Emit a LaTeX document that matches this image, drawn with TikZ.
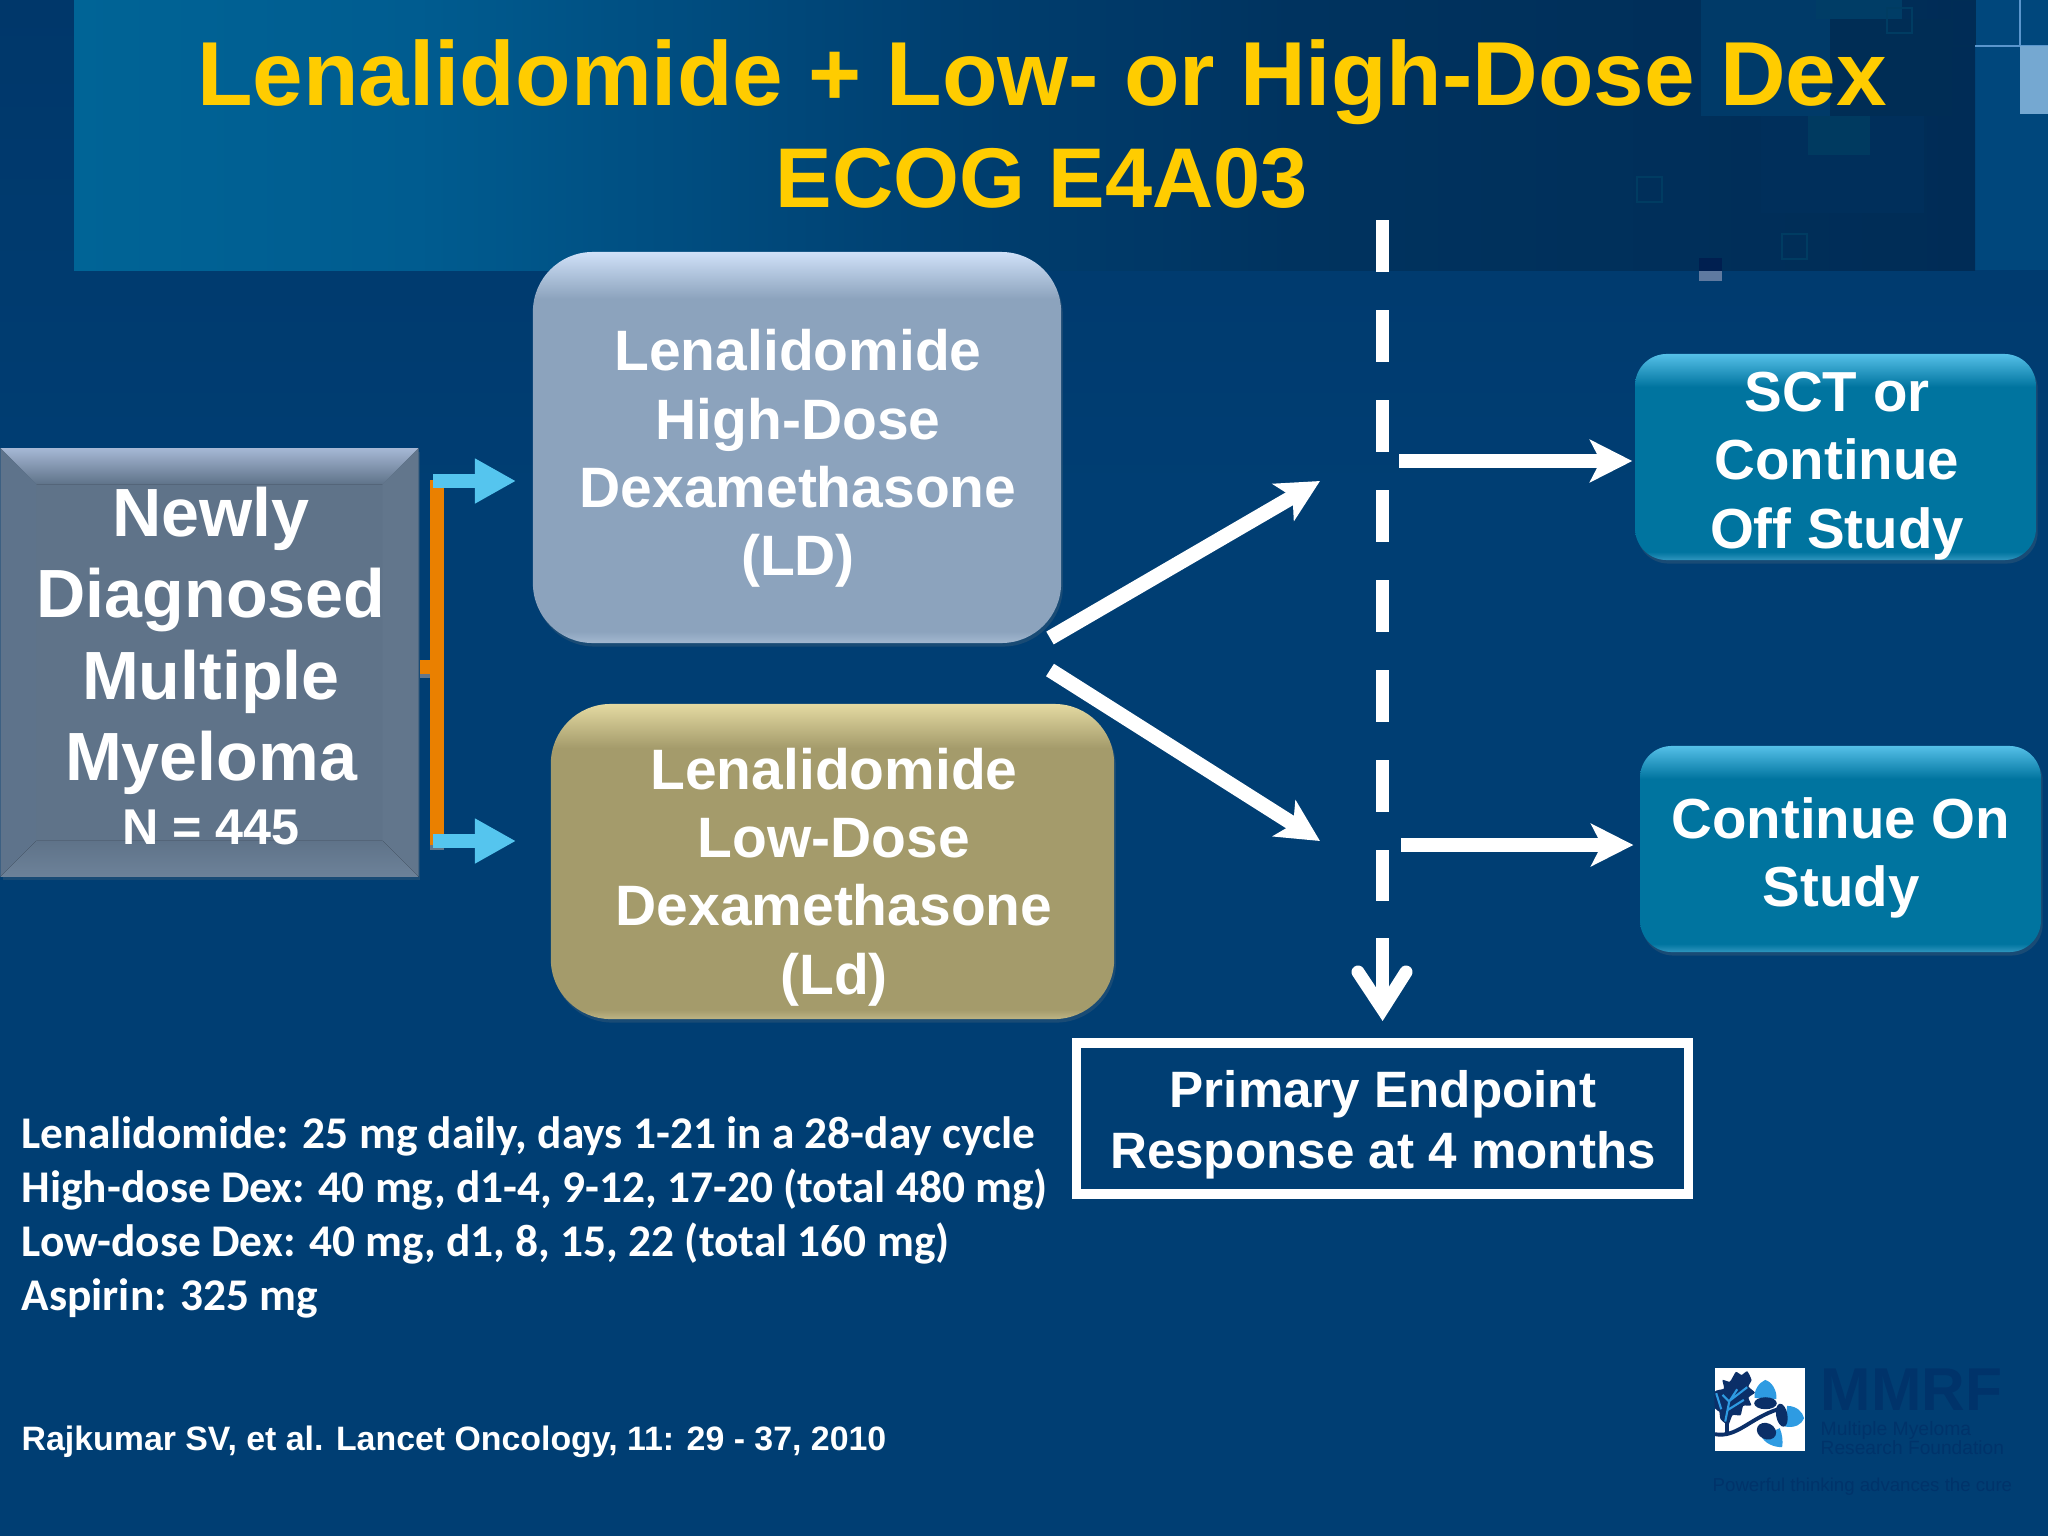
\documentclass[tikz,border=0pt]{standalone}
\usepackage{fontspec}
\setmainfont{Liberation Sans}
\newfontfamily\calfont{Carlito}
\usepackage{xcolor}
\usetikzlibrary{arrows.meta, shadows, positioning, calc}

\definecolor{bgmain}{HTML}{003E73}
\definecolor{bgtop}{HTML}{00376A}
\definecolor{bgside}{HTML}{00477C}
\definecolor{titlegold}{HTML}{FFCC00}
\definecolor{heada}{HTML}{006496}
\definecolor{headb}{HTML}{005C90}
\definecolor{headc}{HTML}{004F82}
\definecolor{headd}{HTML}{003F70}
\definecolor{heade}{HTML}{00335F}
\definecolor{headf}{HTML}{002C56}
\definecolor{patcha}{HTML}{003A68}
\definecolor{patchb}{HTML}{003D66}
\definecolor{patchc}{HTML}{002D55}
\definecolor{patchd}{HTML}{002F5B}
\definecolor{patche}{HTML}{003A60}
\definecolor{ghosta}{HTML}{003C62}
\definecolor{ghostb}{HTML}{002D55}
\definecolor{tabdark}{HTML}{001F50}
\definecolor{tabgrey}{HTML}{5F7AA0}
\definecolor{cornerline}{HTML}{5A96CD}
\definecolor{cornerfill}{HTML}{75A8D1}
\definecolor{ldbody}{HTML}{8CA3BD}
\definecolor{ldtop}{HTML}{D0E1F8}
\definecolor{ldrim}{HTML}{A3B8D0}
\definecolor{lowbody}{HTML}{A49B6B}
\definecolor{lowtop}{HTML}{E4DAA2}
\definecolor{lowrim}{HTML}{BDB484}
\definecolor{tealbody}{HTML}{00749F}
\definecolor{tealtop}{HTML}{55C0E8}
\definecolor{tealrim}{HTML}{2F96BF}
\definecolor{slatebody}{HTML}{5F7389}
\definecolor{slatetop}{HTML}{A6B8D5}
\definecolor{slateedge}{HTML}{6D8299}
\definecolor{slateright}{HTML}{62768C}
\definecolor{slateleft}{HTML}{5E738B}
\definecolor{bracketorange}{HTML}{EA8000}
\definecolor{splitcyan}{HTML}{55C5EE}
\definecolor{logodark}{HTML}{0B2F68}
\definecolor{logoblue}{HTML}{2E9BE2}
\definecolor{logotext}{HTML}{00336A}

\pgfdeclarehorizontalshading{headshade}{100bp}{color(0bp)=(heada); color(25bp)=(heada); color(34bp)=(headb);
  color(40bp)=(headc); color(48bp)=(headd); color(57bp)=(heade); color(75bp)=(headf); color(100bp)=(headf)}
\pgfdeclareverticalshading{ldshade}{100bp}{color(0bp)=(ldrim); color(25bp)=(ldrim); color(26.5bp)=(ldbody);
  color(69bp)=(ldbody); color(75bp)=(ldtop); color(100bp)=(ldtop)}
\pgfdeclareverticalshading{lowshade}{100bp}{color(0bp)=(lowrim); color(25bp)=(lowrim); color(26.5bp)=(lowbody);
  color(68bp)=(lowbody); color(75bp)=(lowtop); color(100bp)=(lowtop)}
\pgfdeclareverticalshading{tealshade}{100bp}{color(0bp)=(tealrim); color(25bp)=(tealrim); color(27bp)=(tealbody);
  color(67bp)=(tealbody); color(75bp)=(tealtop); color(100bp)=(tealtop)}

\tikzset{
  softshadow/.style={drop shadow={opacity=.2,shadow xshift=.5pt,shadow yshift=-1pt}},
  armbox/.style={rounded corners=17pt,softshadow,inner sep=0pt},
  armtext/.style={align=center,text=white,inner sep=0pt,font=\bfseries\fontsize{16.2}{19.4}\selectfont},
  offbox/.style={rounded corners=9pt,softshadow,inner sep=0pt,shading=tealshade,minimum width=114pt,minimum height=58.6pt},
  offtext/.style={align=center,text=white,inner sep=0pt,font=\bfseries\fontsize{16.05}{19.4}\selectfont},
  passarrow/.style={draw=white,line width=4.2pt,-{Stealth[length=12pt,width=12pt,inset=3pt]}},
  splitarrow/.style={draw=splitcyan,line width=4pt,-{Triangle[length=11.7pt,width=12pt]}},
  deftext/.style={text=white,anchor=base west,inner sep=0pt,font=\calfont\bfseries\fontsize{12.9}{15}\selectfont},
  logotextstyle/.style={text=logotext,anchor=base west,inner sep=0pt},
  ghostsquare/.style={draw=#1,line width=.4pt}
}

\begin{document}
\begin{tikzpicture}[x=0.01cm,y=-0.01cm]
  \useasboundingbox (0,0) rectangle (2048,1536);

  \fill[bgmain] (0,0) rectangle (2048,1536);
  \fill[top color=bgtop,bottom color=bgmain] (0,0) rectangle (2048,500);
  \fill[bgside] (1975,0) rectangle (2048,270);
  \shade[shading=headshade] (74,0) rectangle (1975,270);

  \fill[patcha] (1701,0) rectangle (1830,116);
  \fill[patchb] (1816,0) rectangle (1902,19);
  \fill[patchc] (1830,19) rectangle (1952,116);
  \fill[patchd] (1761,116) rectangle (1924,213);
  \fill[patche] (1808,116) rectangle (1870,155);
  \foreach \sx/\sy in {1887/8,1637/177,1782/234}
    \draw[ghostsquare=ghosta] (\sx,\sy) rectangle ++(25,25);
  \draw[ghostsquare=ghostb] (1952,0) rectangle (1975,46);
  \fill[tabdark] (1699,258) rectangle (1722,271);
  \fill[tabgrey] (1699,271) rectangle (1722,281);
  \draw[cornerline,line width=.5pt] (1975,46) -- (2048,46) (2020,0) -- (2020,46);
  \fill[cornerfill] (2020,46) rectangle (2048,114);

  \node[text=titlegold,inner sep=0pt,anchor=base,font=\bfseries\fontsize{25.85}{29}\selectfont] (title) at (1042,105)
    {Lenalidomide + Low- or High-Dose Dex};
  \node[text=titlegold,inner sep=0pt,anchor=base,font=\bfseries\fontsize{24.1}{29}\selectfont] (trial) at (1042,207)
    {ECOG E4A03};

  \node[minimum width=118.5pt,minimum height=121.5pt,inner sep=0pt,fill=slatebody,softshadow] (newdx) at (209.5,662.5) {};
  \fill[top color=slatetop,bottom color=slatebody] (newdx.north west) -- (newdx.north east) -- ++(-36,36) -- ($(newdx.north west)+(36,36)$) -- cycle;
  \fill[slateright] (newdx.north east) -- (newdx.south east) -- ++(-36,-36) -- ($(newdx.north east)+(-36,36)$) -- cycle;
  \fill[slateleft] (newdx.north west) -- (newdx.south west) -- ++(36,-36) -- ($(newdx.north west)+(36,36)$) -- cycle;
  \fill[top color=slatebody,bottom color=slateedge] (newdx.south west) -- (newdx.south east) -- ++(-36,-36) -- ($(newdx.south west)+(36,-36)$) -- cycle;
  \node[text=white,align=center,inner sep=0pt,font=\bfseries\fontsize{19.4}{23.2}\selectfont] (newdxtext) at (211,666)
    {Newly\\Diagnosed\\Multiple\\Myeloma\\[-5pt]{\fontsize{14.3}{17}\selectfont N = 445}};

  \node[armbox,shading=ldshade,minimum width=150.2pt,minimum height=111.2pt] (ldarm) at (797,447.5) {};
  \node[armtext] (ldtext) at (798,458.5) {Lenalidomide\\High-Dose\\Dexamethasone\\(LD)};
  \node[armbox,shading=lowshade,minimum width=160.2pt,minimum height=89.6pt] (lowarm) at (832.5,861.5) {};
  \node[armtext] (lowtext) at (834,877) {Lenalidomide\\Low-Dose\\Dexamethasone\\(Ld)};

  \node[offbox] (sct) at (1835.5,457) {};
  \node[offtext] (scttext) at (1837,466) {SCT or\\Continue\\Off Study};
  \node[offbox] (contin) at (1840.5,849) {};
  \node[offtext] (contintext) at (1841,858) {Continue On\\Study};

  \node[draw=white,line width=2.8pt,minimum width=174pt,minimum height=43pt,inner sep=0pt] (endpoint) at (1382.5,1118.5) {};
  \node[align=center,text=white,inner sep=0pt,font=\bfseries\fontsize{14.55}{17.4}\selectfont] (endtext) at (1383,1124.5)
    {Primary Endpoint\\Response at 4 months};

  \coordinate (stubstart) at (420,667);
  \coordinate (bracktop) at (437,480);
  \coordinate (brackbot) at (437,845);
  \fill[slateright] (420,674) rectangle (435,678);
  \fill[slateright] (430,845) rectangle (444,850);
  \draw[bracketorange,line width=4pt] (bracktop) -- (brackbot);
  \draw[bracketorange,line width=4pt] (stubstart) -- (stubstart -| bracktop);

  \coordinate (splitup) at (433,481);
  \coordinate (splitlow) at (433,841);
  \draw[splitarrow] (splitup) -- ++(83,0) coordinate (splitupend);
  \draw[splitarrow] (splitlow) -- ++(83,0) coordinate (splitlowend);

  \coordinate (armup) at (1050,638);
  \coordinate (armupend) at (1320,481);
  \coordinate (armlow) at (1050,670);
  \coordinate (armlowend) at (1320,841);
  \draw[passarrow] (armup) -- (armupend);
  \draw[passarrow] (armlow) -- (armlowend);

  \coordinate (passup) at (1399,461);
  \coordinate (passlow) at (1401,845);
  \draw[passarrow,shorten >=.6pt] (passup) -- (passup -| sct.west);
  \draw[passarrow,shorten >=1.7pt] (passlow) -- (passlow -| contin.west);

  \coordinate (gatetop) at (1382.5,220);
  \coordinate (gatebot) at (1382.5,901);
  \coordinate (gateshaft) at (1382.5,938);
  \coordinate (gatetip) at (1382.5,1009);
  \coordinate (gatebarbl) at (1358,972);
  \coordinate (gatebarbr) at (1406,972);
  \draw[white,line width=3.7pt,dash pattern=on 14.8pt off 10.8pt] (gatetop) -- (gatebot);
  \draw[white,line width=3.7pt] (gateshaft) -- (gatetip);
  \draw[white,line width=3.7pt,line cap=round,line join=miter] (gatebarbl) -- (gatetip) -- (gatebarbr);

  \node[deftext] (dosea) at (21,1148) {Lenalidomide: 25 mg daily, days 1-21 in a 28-day cycle};
  \node[deftext] (doseb) at (21,1202) {High-dose Dex: 40 mg, d1-4, 9-12, 17-20 (total 480 mg)};
  \node[deftext] (dosec) at (21,1256) {Low-dose Dex: 40 mg, d1, 8, 15, 22 (total 160 mg)};
  \node[deftext] (dosed) at (21,1310) {Aspirin: 325 mg};
  \node[text=white,anchor=base west,inner sep=0pt,font=\bfseries\fontsize{9.63}{12}\selectfont] (cite) at (21,1450)
    {Rajkumar SV, et al. Lancet Oncology, 11: 29 - 37, 2010};

  \begin{scope}[shift={(1650,1330)},x=0.003333cm,y=-0.003333cm]
    \fill[white] (195,115) rectangle (467,363);
    \fill[logodark] plot[smooth cycle,tension=.35] coordinates {(195,185) (222,176) (218,150) (240,155) (258,126) (275,135) (292,124) (305,150) (296,170) (315,188) (296,203) (304,226) (280,228) (272,256) (248,256) (235,285) (212,268) (208,245) (195,235)};
    \draw[logodark,line width=1.1pt] (231,280) -- (231,312);
    \draw[logodark,line width=1.1pt] (195,313) .. controls (260,325) and (300,265) .. (385,238);
    \draw[logoblue,line width=.6pt] (226,275) -- (238,215) -- (262,178) (238,215) -- (218,195) (240,212) -- (292,172) (234,240) -- (282,210) (199,190) -- (214,238);
    \fill[logoblue] (346,150) .. controls (365,155) and (382,180) .. (380,208) -- (314,204) .. controls (312,180) and (328,158) .. (346,150) -- cycle;
    \fill[logodark] (347,220) ellipse (34 and 18);
    \fill[logoblue] (463,265) .. controls (455,285) and (435,295) .. (405,290) -- (412,228) .. controls (440,228) and (458,245) .. (463,265) -- cycle;
    \fill[logodark,rotate around={-80:(396,256)}] (396,256) ellipse (35 and 17);
    \fill[logoblue] (397,352) .. controls (370,352) and (345,340) .. (335,320) -- (390,295) .. controls (398,315) and (400,335) .. (397,352) -- cycle;
    \fill[logodark,rotate around={-25:(350,304)}] (350,304) ellipse (30 and 24);
  \end{scope}
  \node[logotextstyle,font=\bfseries\fontsize{17.2}{20}\selectfont] (mmrf) at (1820,1410) {MMRF};
  \node[logotextstyle,font=\fontsize{5.5}{6}\selectfont] (mmrfa) at (1820,1435) {Multiple Myeloma};
  \node[logotextstyle,font=\fontsize{5.45}{6}\selectfont] (mmrfb) at (1820,1454) {Research Foundation};
  \node[logotextstyle,font=\fontsize{5.3}{6}\selectfont] (mmrfc) at (1712,1491) {Powerful thinking advances the cure};
\end{tikzpicture}
\end{document}
